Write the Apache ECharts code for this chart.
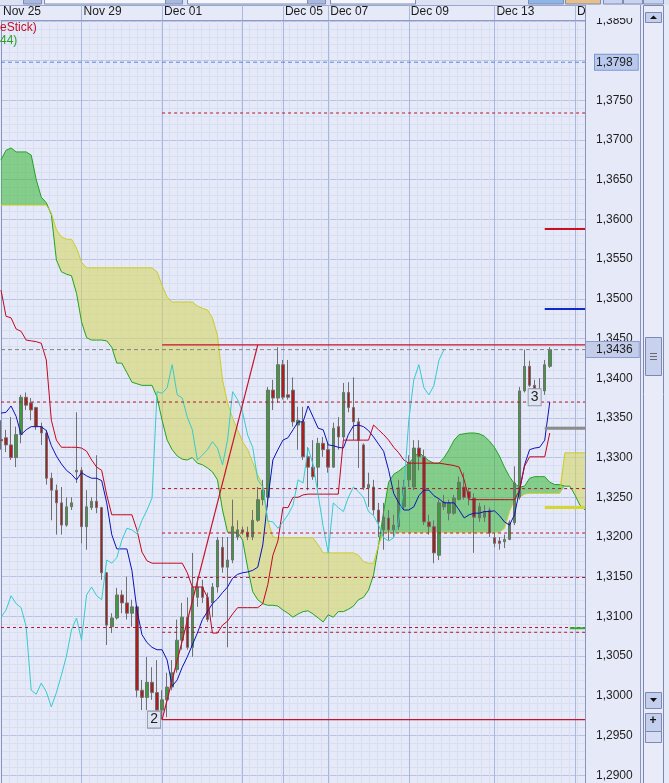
<!DOCTYPE html>
<html><head><meta charset="utf-8">
<script src="https://cdn.jsdelivr.net/npm/echarts@6/dist/echarts.min.js"></script>
<style>html,body{margin:0;padding:0;background:#e6eaf8;}#c{width:669px;height:783px;}</style>
</head><body><div id="c"></div>
<script>
// ---- tick labels ----
const dateLabels = ['Nov 25','Nov 29','Dec 01','','Dec 05','Dec 07','Dec 09','Dec 13','Dec 15'];
const dateIdx = [0,16,32,48,56,65,81,98,114];

// ---- candles ----
const opens = [1.3323,1.3325,1.3316,1.3300,1.3329,1.3376,1.3369,1.3363,1.3339,1.3331,
1.3274,1.3259,1.3243,1.3215,1.3238,1.3282,1.3284,1.3213,1.3237,1.3245,
1.3237,1.3155,1.3087,1.3098,1.3127,1.3117,1.3104,1.3112,1.3007,1.2998,
1.3017,1.3004,1.2982,1.2995,1.3011,1.3033,1.3070,1.3099,1.3061,1.3124,
1.3137,1.3124,1.3117,1.3137,1.3187,1.3162,1.3171,1.3200,1.3209,1.3206,
1.3200,1.3221,1.3247,1.3250,1.3385,1.3375,1.3417,1.3379,1.3385,1.3341,
1.3345,1.3301,1.3288,1.3288,1.3318,1.3310,1.3288,1.3339,1.3326,1.3382,
1.3363,1.3345,1.3316,1.3262,1.3263,1.3234,1.3209,1.3224,1.3209,1.3213,
1.3238,1.3272,1.3263,1.3312,1.3301,1.3219,1.3213,1.3177,1.3238,1.3230,
1.3230,1.3247,1.3263,1.3257,1.3249,1.3224,1.3225,1.3234,1.3199,1.3195,
1.3194,1.3197,1.3218,1.3250,1.3384,1.3415,1.3391,1.3384,1.3384,1.3415];
const closes = [1.3321,1.3316,1.3300,1.3329,1.3376,1.3366,1.3360,1.3339,1.3331,1.3274,
1.3259,1.3243,1.3215,1.3238,1.3243,1.3284,1.3213,1.3238,1.3245,1.3237,
1.3155,1.3089,1.3098,1.3127,1.3117,1.3104,1.3112,1.3007,1.2998,1.3017,
1.3004,1.2982,1.2995,1.3011,1.3029,1.3070,1.3099,1.3061,1.3137,1.3137,
1.3124,1.3096,1.3137,1.3196,1.3162,1.3171,1.3213,1.3209,1.3206,1.3200,
1.3221,1.3247,1.3259,1.3385,1.3375,1.3417,1.3376,1.3376,1.3345,1.3347,
1.3301,1.3288,1.3276,1.3318,1.3310,1.3288,1.3337,1.3326,1.3382,1.3363,
1.3345,1.3322,1.3262,1.3266,1.3234,1.3219,1.3225,1.3209,1.3215,1.3262,
1.3263,1.3294,1.3312,1.3301,1.3219,1.3213,1.3180,1.3243,1.3244,1.3243,
1.3249,1.3269,1.3250,1.3249,1.3225,1.3238,1.3232,1.3205,1.3192,1.3192,
1.3197,1.3218,1.3268,1.3384,1.3415,1.3391,1.3385,1.3383,1.3417,1.3436];
const lows = [1.3310,1.3307,1.3297,1.3288,1.3318,1.3360,1.3347,1.3335,1.3316,1.3266,
1.3221,1.3203,1.3203,1.3213,1.3234,1.3268,1.3192,1.3184,1.3234,1.3230,
1.3146,1.3064,1.3079,1.3096,1.3104,1.3096,1.3087,1.2998,1.2982,1.2982,
1.2995,1.2976,1.2970,1.2973,1.3007,1.3029,1.3058,1.3058,1.3049,1.3112,
1.3117,1.3093,1.3099,1.3130,1.3155,1.3061,1.3167,1.3196,1.3203,1.3196,
1.3196,1.3219,1.3240,1.3238,1.3360,1.3369,1.3373,1.3373,1.3339,1.3310,
1.3297,1.3259,1.3272,1.3262,1.3301,1.3281,1.3287,1.3310,1.3322,1.3357,
1.3322,1.3287,1.3259,1.3238,1.3228,1.3200,1.3184,1.3196,1.3200,1.3209,
1.3234,1.3263,1.3259,1.3284,1.3215,1.3203,1.3167,1.3171,1.3234,1.3221,
1.3228,1.3247,1.3247,1.3240,1.3180,1.3219,1.3219,1.3200,1.3187,1.3184,
1.3186,1.3196,1.3215,1.3247,1.3382,1.3389,1.3379,1.3379,1.3379,1.3413];
const highs = [1.3347,1.3335,1.3351,1.3339,1.3379,1.3382,1.3375,1.3364,1.3344,1.3335,
1.3281,1.3266,1.3263,1.3250,1.3250,1.3357,1.3288,1.3259,1.3250,1.3303,
1.3238,1.3156,1.3104,1.3136,1.3133,1.3150,1.3121,1.3114,1.3020,1.3049,
1.3036,1.3045,1.3007,1.3029,1.3045,1.3096,1.3117,1.3124,1.3180,1.3150,
1.3146,1.3130,1.3142,1.3200,1.3200,1.3200,1.3247,1.3221,1.3213,1.3213,
1.3234,1.3263,1.3272,1.3389,1.3398,1.3439,1.3423,1.3423,1.3401,1.3364,
1.3364,1.3313,1.3322,1.3325,1.3326,1.3318,1.3344,1.3351,1.3394,1.3395,
1.3401,1.3350,1.3318,1.3281,1.3272,1.3243,1.3243,1.3234,1.3228,1.3272,
1.3272,1.3303,1.3322,1.3322,1.3310,1.3228,1.3221,1.3247,1.3253,1.3247,
1.3253,1.3276,1.3281,1.3262,1.3255,1.3243,1.3240,1.3237,1.3205,1.3200,
1.3203,1.3221,1.3289,1.3389,1.3436,1.3422,1.3398,1.3400,1.3423,1.3439];

// ---- ichimoku lines ----
const tenkan = [1.3356,1.3357,1.3365,1.3352,1.3329,1.3335,1.3339,1.3339,1.3339,1.3334,
1.3315,1.3302,1.3292,1.3284,1.3279,1.3272,1.3281,1.3277,1.3274,1.3274,
1.3271,1.3243,1.3203,1.3185,1.3185,1.3185,1.3158,1.3108,1.3077,1.3067,
1.3061,1.3058,1.3058,1.3045,1.3012,1.3020,1.3036,1.3049,1.3064,1.3079,
1.3096,1.3106,1.3116,1.3122,1.3130,1.3137,1.3148,1.3153,1.3155,1.3156,
1.3158,1.3162,1.3190,1.3247,1.3297,1.3310,1.3322,1.3325,1.3335,1.3345,
1.3345,1.3365,1.3351,1.3337,1.3335,1.3316,1.3315,1.3313,1.3312,1.3329,
1.3340,1.3341,1.3339,1.3334,1.3326,1.3317,1.3308,1.3284,1.3255,1.3243,
1.3234,1.3234,1.3238,1.3252,1.3259,1.3259,1.3252,1.3248,1.3243,1.3243,
1.3243,1.3234,1.3224,1.3228,1.3230,1.3230,1.3232,1.3232,1.3233,1.3227,
1.3219,1.3215,1.3228,1.3259,1.3291,1.3310,1.3312,1.3313,1.3322,1.3370];
const kijun = [1.3511,1.3478,1.3476,1.3462,1.3459,1.3448,1.3447,1.3446,1.3444,1.3423,
1.3347,1.3322,1.3313,1.3313,1.3313,1.3313,1.3312,1.3308,1.3297,1.3288,
1.3284,1.3253,1.3228,1.3228,1.3228,1.3228,1.3228,1.3209,1.3181,1.3170,
1.3167,1.3167,1.3167,1.3167,1.3167,1.3167,1.3167,1.3155,1.3137,1.3137,
1.3137,1.3124,1.3079,1.3079,1.3089,1.3094,1.3103,1.3111,1.3111,1.3111,
1.3111,1.3111,1.3116,1.3140,1.3177,1.3195,1.3237,1.3237,1.3250,1.3250,
1.3253,1.3254,1.3254,1.3254,1.3254,1.3254,1.3254,1.3254,1.3322,1.3322,
1.3322,1.3322,1.3322,1.3322,1.3341,1.3335,1.3329,1.3322,1.3313,1.3306,
1.3297,1.3293,1.3293,1.3293,1.3293,1.3293,1.3293,1.3293,1.3292,1.3291,
1.3290,1.3288,1.3272,1.3247,1.3247,1.3247,1.3247,1.3247,1.3247,1.3247,
1.3247,1.3247,1.3247,1.3259,1.3289,1.3301,1.3301,1.3301,1.3301,1.3331];
const chikou = [1.3099,1.3108,1.3126,1.3116,1.3111,1.3087,1.3007,1.3002,1.3016,1.3005,
1.2986,1.3004,1.3026,1.3050,1.3083,1.3098,1.3070,1.3127,1.3137,1.3126,
1.3121,1.3171,1.3167,1.3174,1.3196,1.3211,1.3209,1.3204,1.3221,1.3234,
1.3249,1.3383,1.3381,1.3388,1.3417,1.3379,1.3375,1.3351,1.3335,1.3297,
1.3303,1.3310,1.3320,1.3312,1.3291,1.3322,1.3383,1.3373,1.3357,1.3328,
1.3313,1.3272,1.3263,1.3220,1.3219,1.3211,1.3219,1.3228,1.3240,1.3272,
1.3268,1.3312,1.3291,1.3253,1.3213,1.3180,1.3243,1.3237,1.3232,1.3250,
1.3263,1.3257,1.3250,1.3232,1.3227,1.3215,1.3199,1.3195,1.3199,1.3221,
1.3259,1.3347,1.3398,1.3417,1.3388,1.3379,1.3391,1.3423,1.3436];
const senkouA = [1.3675,1.3687,1.3690,1.3685,1.3685,1.3685,1.3681,1.3650,1.3628,1.3621,
1.3606,1.3549,1.3534,1.3531,1.3529,1.3507,1.3471,1.3451,1.3448,1.3448,
1.3448,1.3447,1.3439,1.3419,1.3419,1.3407,1.3395,1.3393,1.3391,1.3391,
1.3391,1.3376,1.3347,1.3322,1.3310,1.3302,1.3298,1.3297,1.3300,1.3293,
1.3291,1.3287,1.3282,1.3272,1.3234,1.3206,1.3206,1.3206,1.3196,1.3161,
1.3131,1.3121,1.3116,1.3114,1.3114,1.3113,1.3108,1.3104,1.3099,1.3103,
1.3106,1.3107,1.3103,1.3098,1.3093,1.3102,1.3099,1.3106,1.3106,1.3109,
1.3113,1.3121,1.3124,1.3133,1.3152,1.3190,1.3232,1.3269,1.3279,1.3283,
1.3288,1.3293,1.3300,1.3307,1.3301,1.3296,1.3293,1.3293,1.3300,1.3310,
1.3322,1.3329,1.3330,1.3331,1.3331,1.3330,1.3327,1.3321,1.3313,1.3302,
1.3288,1.3276,1.3267,1.3263,1.3264,1.3274,1.3276,1.3276,1.3276,1.3269,
1.3266,1.3266,1.3264,1.3264,1.3253,1.3240,1.3234];
const senkouB = [1.3618,1.3618,1.3618,1.3618,1.3618,1.3618,1.3618,1.3618,1.3618,1.3618,
1.3608,1.3587,1.3578,1.3575,1.3575,1.3564,1.3546,1.3539,1.3539,1.3539,
1.3539,1.3539,1.3539,1.3539,1.3539,1.3539,1.3539,1.3539,1.3539,1.3539,
1.3539,1.3534,1.3517,1.3502,1.3496,1.3496,1.3496,1.3496,1.3496,1.3491,
1.3488,1.3486,1.3476,1.3454,1.3398,1.3369,1.3350,1.3335,1.3320,1.3310,
1.3294,1.3278,1.3266,1.3221,1.3200,1.3199,1.3199,1.3199,1.3199,1.3199,
1.3199,1.3199,1.3199,1.3190,1.3180,1.3180,1.3180,1.3180,1.3180,1.3180,
1.3180,1.3177,1.3169,1.3167,1.3167,1.3190,1.3206,1.3206,1.3206,1.3206,
1.3206,1.3206,1.3206,1.3206,1.3206,1.3206,1.3206,1.3206,1.3206,1.3206,
1.3206,1.3206,1.3206,1.3206,1.3206,1.3206,1.3206,1.3206,1.3206,1.3206,
1.3211,1.3232,1.3247,1.3250,1.3254,1.3255,1.3255,1.3255,1.3255,1.3255,
1.3255,1.3255,1.3306,1.3306,1.3306,1.3306,1.3306];

// ---- levels ----
const dashedFull = [1.3370, 1.3086];
const dashedPivot = [1.3734, 1.3261, 1.3205, 1.3149, 1.3080];
const pivotStart = 32;
const swingLow = 1.2970, swingHigh = 1.3442, swingHighIdx = 51;
const blueLevel = 1.3798, lastPrice = 1.3436;
const sideValues = [1.3588, 1.3487, 1.3337, 1.3237, 1.3085];
const sideStart = [108, 108, 108, 108, 113];
const waveIdx = [31, 106], waveVal = [1.2970, 1.3376], waveText = ['2', '3'];

// ---- build ----
const FONT = 'Liberation Sans, Arial, sans-serif';
const N = senkouA.length;
const LAST = N - 1;
const bars = senkouA.map((_, i) => String(i));
const fmt = v => v.toFixed(4).replace('.', ',');
const cloudBase = senkouA.map((a, i) => Math.min(a, senkouB[i]));
const cloudUp = senkouA.map((a, i) => Math.max(a - senkouB[i], 0));
const cloudDown = senkouA.map((a, i) => Math.max(senkouB[i] - a, 0));
const candles = opens.map((o, i) => [o, closes[i], lows[i], highs[i]]);

const span = (v, s, e) => bars.map((_, i) => (i >= s && i <= e) ? v : null);
const level = (name, v, s, e, style, extra) => Object.assign({
  name, type: 'line', data: span(v, s, e), symbol: 'none', silent: true, z: 5,
  lineStyle: style, emphasis: {disabled: true}
}, extra || {});

const redDash = {color: '#b4142a', type: [3, 3], width: 1};
const redSolid = {color: '#c8102e', type: 'solid', width: 1.2};
const sideStyles = [
  {color: '#c81020', width: 2}, {color: '#1028c8', width: 2},
  {color: '#8c8c8c', width: 3}, {color: '#d6d62e', width: 3},
  {color: '#2eae2e', width: 2}
];
const boxLabel = (text, dist, pad, bg, bd) => ({show: true, formatter: text, distance: dist, color: '#1e1e1e',
  fontSize: 12, fontFamily: FONT, lineHeight: 13, backgroundColor: bg, borderColor: bd, borderWidth: 1, padding: pad});

const levelSeries = [];
levelSeries.push(level('L blue', blueLevel, 0, LAST, {color: '#5b80d8', type: [4, 3], width: 1},
  {endLabel: boxLabel(fmt(blueLevel), 10, [2, 5, 0, 1], '#b9c9ee', '#7d95cf')}));
dashedFull.forEach((v, k) => levelSeries.push(level('L full ' + k, v, 0, LAST, redDash)));
dashedPivot.forEach((v, k) => levelSeries.push(level('L pivot ' + k, v, pivotStart, LAST, redDash)));
levelSeries.push(level('L last', lastPrice, 0, LAST, {color: '#808080', type: [4, 3], width: 1},
  {endLabel: boxLabel(fmt(lastPrice), 1, [2, 6, 0, 10], '#c3cdea', '#8b9bd0')}));
levelSeries.push(level('L swing low', swingLow, pivotStart, LAST, redSolid));
levelSeries.push(level('L swing high', swingHigh, pivotStart, LAST, redSolid));
levelSeries.push({name: 'L diagonal', type: 'line', symbol: 'none', silent: true, z: 5, connectNulls: true,
  data: bars.map((_, i) => i === pivotStart ? swingLow : (i === swingHighIdx ? swingHigh : null)), lineStyle: redSolid});
sideValues.forEach((v, k) => levelSeries.push(level('L side ' + k, v, sideStart[k], LAST, sideStyles[k])));

const chart = echarts.init(document.getElementById('c'), null, {renderer: 'canvas', width: 669, height: 783});
const isDate = i => dateIdx.indexOf(i) >= 0;

const graphics = [
  {type: 'rect', shape: {x: 0, y: 0, width: 669, height: 5}, style: {fill: '#dde2f3'}, z: 70},
  ...[[23,18,'#a9b8dc'],[44,121,'#f6f7fc'],[165,17,'#a9b8dc'],[187,120,'#f6f7fc'],[307,18,'#a9b8dc'],
      [330,85,'#f6f7fc'],[528,35,'#8fb4e6'],[565,35,'#e6c08c'],[603,19,'#c9d2ee'],[623,19,'#c9d2ee'],[643,20,'#c9d2ee']]
    .map(b => ({type: 'rect', shape: {x: b[0] + 0.5, y: -1, width: b[1], height: 5}, style: {fill: b[2], stroke: '#7d8bb5', lineWidth: 1}, z: 71})),
  {type: 'rect', shape: {x: 0, y: 5, width: 585, height: 15}, style: {fill: '#e6eaf8'}, z: 40},
  {type: 'line', shape: {x1: 0, y1: 5.5, x2: 641, y2: 5.5}, style: {stroke: '#9aa6cc', lineWidth: 1}, z: 41},
  {type: 'rect', shape: {x: 586, y: 5, width: 54.5, height: 13}, style: {fill: '#e6eaf8'}, z: 60},
  {type: 'line', shape: {x1: 585.5, y1: 5, x2: 585.5, y2: 783}, style: {stroke: '#8894bd', lineWidth: 1}, z: 61},
  {type: 'line', shape: {x1: 640.5, y1: 5, x2: 640.5, y2: 783}, style: {stroke: '#8894bd', lineWidth: 1}, z: 61},
  {type: 'text', x: 0, y: 22, style: {text: 'eStick)', fill: '#c0102a', font: '12px ' + FONT}, z: 45},
  {type: 'text', x: 0, y: 35, style: {text: '44)', fill: '#2aa02a', font: '12px ' + FONT}, z: 45},
  {type: 'rect', shape: {x: 643.5, y: 5.5, width: 20, height: 778}, style: {fill: '#e9ecf8', stroke: '#7c89b3', lineWidth: 1}, z: 60},
  {type: 'rect', shape: {x: 645.5, y: 12.5, width: 16, height: 10}, style: {fill: '#c4cfee', stroke: '#7c89b3', lineWidth: 1}, z: 61},
  {type: 'polygon', shape: {points: [[650, 19], [657, 19], [653.5, 15.5]]}, style: {fill: '#111'}, z: 62},
  {type: 'rect', shape: {x: 645.5, y: 337.5, width: 16, height: 38}, style: {fill: '#c8d2ef', stroke: '#7c89b3', lineWidth: 1}, z: 61},
  ...[353, 356, 359].map(y => ({type: 'line', shape: {x1: 650, y1: y + 0.5, x2: 657, y2: y + 0.5}, style: {stroke: '#6a6a6a', lineWidth: 1}, z: 62})),
  {type: 'rect', shape: {x: 645.5, y: 692.5, width: 16, height: 16}, style: {fill: '#c4cfee', stroke: '#7c89b3', lineWidth: 1}, z: 61},
  {type: 'polygon', shape: {points: [[650, 698], [657, 698], [653.5, 702]]}, style: {fill: '#111'}, z: 62},
  {type: 'rect', shape: {x: 645.5, y: 713.5, width: 16, height: 18}, style: {fill: '#c4cfee', stroke: '#7c89b3', lineWidth: 1}, z: 61},
  {type: 'text', x: 649.5, y: 715, style: {text: '+', fill: '#111', font: 'bold 12px ' + FONT}, z: 62},
  {type: 'rect', shape: {x: 645.5, y: 731.5, width: 16, height: 11}, style: {fill: '#d7ddf3', stroke: '#7c89b3', lineWidth: 1}, z: 61}
];

chart.setOption({
  animation: false,
  backgroundColor: '#e6eaf8',
  grid: {left: 1, right: 84, top: -18.8, bottom: -31.9, show: false, containLabel: false, outerBoundsMode: 'none'},
  xAxis: [
    {type: 'category', data: bars, boundaryGap: false, position: 'bottom',
      axisLine: {show: false}, axisTick: {show: false}, axisLabel: {show: false},
      splitLine: {show: true, interval: (i) => dateIdx.indexOf(i) > 0, lineStyle: {color: '#a9b6e0', width: 1}}, z: 1},
    {type: 'category', data: bars, boundaryGap: false, position: 'top', offset: -38.8, z: 50,
      axisLine: {show: true, lineStyle: {color: '#8e9bc6'}},
      axisTick: {show: true, interval: (i) => isDate(i) && i > 0, length: 15, lineStyle: {color: '#a9b6e0'}},
      axisLabel: {show: true, interval: (i) => isDate(i), formatter: (v, i) => { const k = dateIdx.indexOf(i); return k >= 0 ? dateLabels[k] : ''; },
        align: 'left', margin: 2, padding: [0, 0, 0, 2], color: '#1b1b1b', fontSize: 12, fontFamily: FONT}},
    {type: 'value', min: 0, max: 584, interval: 8, position: 'bottom', z: 0,
      axisLine: {show: false}, axisTick: {show: false}, axisLabel: {show: false},
      splitLine: {show: true, lineStyle: {color: '#d9dff3', width: 1}}}
  ],
  yAxis: {type: 'value', position: 'right', min: 1.285, max: 1.39, interval: 0.005,
    axisLine: {show: true, lineStyle: {color: '#8894bd'}}, axisTick: {show: false},
    axisLabel: {margin: 11, formatter: v => fmt(v), color: '#1e1e1e', fontSize: 12, fontFamily: FONT},
    splitLine: {show: true, lineStyle: {color: '#b8c3e6'}},
    minorTick: {show: false, splitNumber: 5},
    minorSplitLine: {show: true, lineStyle: {color: '#d9dff3'}}},
  graphic: graphics,
  series: [
    {name: 'cloudBase', type: 'line', data: cloudBase, stack: 'cloud', stackStrategy: 'all', symbol: 'none',
      lineStyle: {width: 0, opacity: 0}, areaStyle: {opacity: 0}, z: 1, silent: true},
    {name: 'cloudUp', type: 'line', data: cloudUp, stack: 'cloud', stackStrategy: 'all', symbol: 'none',
      lineStyle: {width: 0, opacity: 0}, areaStyle: {color: 'rgba(60,185,60,0.58)', opacity: 1}, z: 1, silent: true},
    {name: 'cloudDown', type: 'line', data: cloudDown, stack: 'cloud', stackStrategy: 'all', symbol: 'none',
      lineStyle: {width: 0, opacity: 0}, areaStyle: {color: 'rgba(212,214,96,0.58)', opacity: 1}, z: 1, silent: true},
    {name: 'Senkou A', type: 'line', data: senkouA, symbol: 'none', lineStyle: {color: '#22a322', width: 1}, z: 2},
    {name: 'Senkou B', type: 'line', data: senkouB, symbol: 'none', lineStyle: {color: '#cccc2a', width: 1}, z: 2},
    {name: 'Candles', type: 'candlestick', data: candles, barWidth: 3, z: 3,
      itemStyle: {color: '#3c9c3c', color0: '#b01c1c', borderColor: '#707070', borderColor0: '#707070', borderWidth: 1}},
    {name: 'Tenkan', type: 'line', data: tenkan, symbol: 'none', lineStyle: {color: '#0b12b8', width: 1}, z: 4},
    {name: 'Kijun', type: 'line', data: kijun, symbol: 'none', lineStyle: {color: '#c3061e', width: 1}, z: 4},
    {name: 'Chikou', type: 'line', data: chikou, symbol: 'none', lineStyle: {color: '#35cccc', width: 1}, z: 4},
    ...levelSeries,
    {name: 'Waves', type: 'scatter', z: 6, symbol: 'rect', symbolSize: [13, 17],
      data: waveIdx.map((i, k) => ({value: [i, waveVal[k]], symbolOffset: [k === 0 ? -3 : 0, 0], name: waveText[k]})),
      itemStyle: {color: '#dfe4f3', borderColor: '#8d96ab', borderWidth: 1, opacity: 1},
      label: {show: true, position: 'inside', formatter: p => p.name, color: '#222', fontSize: 14, fontFamily: FONT}}
  ]
});
</script>
</body></html>
